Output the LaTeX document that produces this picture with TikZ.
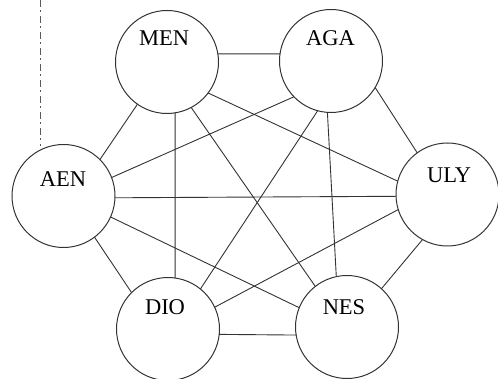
\documentclass[tikz,border=0pt]{standalone}
\usepackage{fontspec}
\setmainfont{Liberation Serif}
\usepackage{tikz}

\begin{document}
\begin{tikzpicture}[x=1pt,y=-1pt]
  \tikzset{HeroStyle/.style = {
    shape         = circle,
    draw          = black!80,
    fill          = white,
    line width    = 1pt,
    inner sep     = 0pt,
    outer sep     = 0pt,
    minimum size  = 103pt
    }
  }
  \tikzset{NameStyle/.style = {
    text          = black,
    inner sep     = 0pt,
    font          = \fontsize{22.5}{24}\selectfont
    }
  }
  \tikzset{EdgeStyle/.style = {
    draw          = black!80,
    line width    = 0.9pt
    }
  }
  \tikzset{MarkStyle/.style = {
    draw          = black!65,
    line width    = 0.8pt,
    dash pattern  = on 7pt off 3pt on 2pt off 4pt
    }
  }
  \useasboundingbox (0,0) rectangle (498,379);

	% dash-dot mark on the left
	\coordinate (MarkTop) at (40, 0);
	\coordinate (MarkEnd) at (40, 146);
	\draw[MarkStyle] (MarkTop) -- (MarkEnd);

	\node[HeroStyle](MEN) at (167, 62) {};
	\node[HeroStyle](AGA) at (331, 61) {};
	\node[HeroStyle](AEN) at (63.5, 196) {};
	\node[HeroStyle](ULY) at (447.5, 194.5) {};
	\node[HeroStyle](DIO) at (168, 329) {};
	\node[HeroStyle](NES) at (347, 327) {};

	\node[NameStyle](MENtxt) at (164, 38) {MEN};
	\node[NameStyle](AGAtxt) at (330.5, 38) {AGA};
	\node[NameStyle](AENtxt) at (63, 179.5) {AEN};
	\node[NameStyle](ULYtxt) at (449, 175) {ULY};
	\node[NameStyle](DIOtxt) at (165, 307) {DIO};
	\node[NameStyle](NEStxt) at (344, 307) {NES};

	\draw[EdgeStyle](MEN.9) -- (AGA.172);
	\draw[EdgeStyle](MEN.235) -- (AEN.45);
	\draw[EdgeStyle](MEN.-81) -- (DIO.82);
	\draw[EdgeStyle](MEN.-62) -- (NES.128);
	\draw[EdgeStyle](MEN.-37) -- (ULY.165);
	\draw[EdgeStyle](AGA.-136.5) -- (AEN.21);
	\draw[EdgeStyle](AGA.-105) -- (DIO.51);
	\draw[EdgeStyle](AGA.-94) -- (NES.102);
	\draw[EdgeStyle](AGA.-31) -- (ULY.126);
	\draw[EdgeStyle](AEN.-2) -- (ULY.182);
	\draw[EdgeStyle](AEN.-24) -- (NES.158);
	\draw[EdgeStyle](AEN.-53) -- (DIO.135);
	\draw[EdgeStyle](ULY.197) -- (DIO.25);
	\draw[EdgeStyle](ULY.241) -- (NES.48);
	\draw[EdgeStyle](DIO.-6) -- (NES.189);

  \end{tikzpicture}
\end{document}
